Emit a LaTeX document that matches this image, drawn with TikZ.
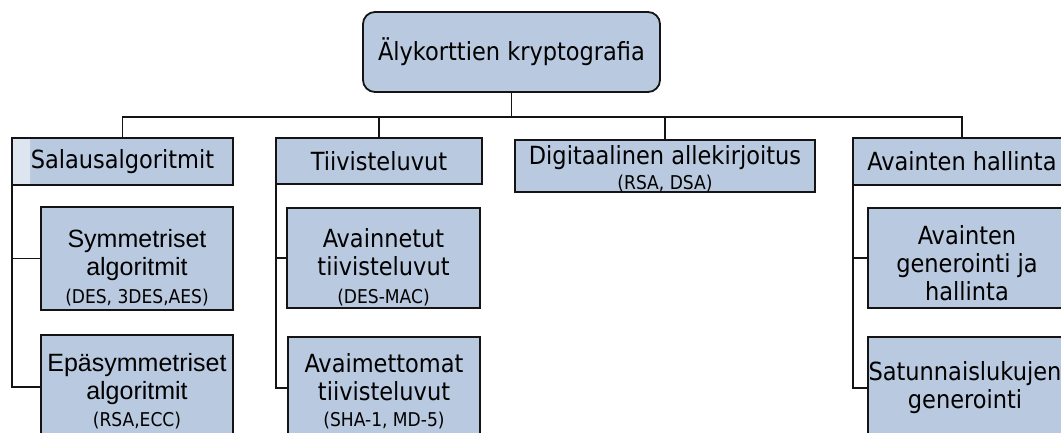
\documentclass[tikz,border=0pt]{standalone}
\usepackage{fontspec}
\newfontfamily\tahomalike{DejaVu Sans Condensed}
\newfontfamily\arialike{Liberation Sans}
\definecolor{boxblue}{RGB}{185,201,223}
\definecolor{edge}{RGB}{20,20,20}
\newcommand{\mainsize}{\fontsize{25}{28}\selectfont}
\newcommand{\parsize}{\fontsize{19}{22}\selectfont}
\newcommand{\paren}[1]{{\tahomalike\parsize #1}}
\begin{document}
\begin{tikzpicture}[x=1pt,y=-1pt,
  every node/.style={inner sep=0pt, outer sep=0pt, align=center},
  boxstyle/.style={draw=edge, line width=1.8pt, fill=boxblue},
  txt/.style={text=black, font=\tahomalike\mainsize},
  arialtxt/.style={text=black, font=\arialike\mainsize},
  link/.style={draw=edge, line width=1.8pt}]
\useasboundingbox (0,0) rectangle (1061,432);
\clip (0,0) rectangle (1061,432);

% root of the tree
\node[boxstyle, txt, rounded corners=12pt, minimum width=297pt, minimum height=80pt]
  (root) at (511.5,52) {Älykorttien kryptografia};

% first level
\node[boxstyle, txt, minimum width=221pt, minimum height=47pt,
  path picture={\shade[left color=white!55!boxblue, right color=boxblue]
    (path picture bounding box.south west) rectangle
    ([xshift=18pt]path picture bounding box.north west);}]
  (salaus) at (122.5,161.5) {Salausalgoritmit};
\node[boxstyle, txt, minimum width=206pt, minimum height=46pt]
  (tiiv) at (379,161) {Tiivisteluvut};
\node[boxstyle, minimum width=300pt, minimum height=52pt] (digi) at (665,166) {};
\node[txt] (digi-t) at ([yshift=-3pt]digi.center)
  {Digitaalinen allekirjoitus\\[-3pt]\paren{(RSA, DSA)}};
\node[boxstyle, txt, minimum width=218pt, minimum height=47pt]
  (avh) at (962,161.5) {Avainten hallinta};

% second level boxes
\node[boxstyle, minimum width=192pt, minimum height=103pt] (sym) at (137,258.5) {};
\node[boxstyle, minimum width=192pt, minimum height=104pt] (epa) at (137,387) {};
\node[boxstyle, minimum width=193pt, minimum height=100pt] (avn) at (383.5,258) {};
\node[boxstyle, minimum width=192pt, minimum height=102pt] (avm) at (384,388) {};
\node[boxstyle, minimum width=198pt, minimum height=100pt] (agen) at (967,258) {};
\node[boxstyle, minimum width=198pt, minimum height=102pt] (satu) at (967,388) {};

% second level texts
\node[arialtxt] (sym-t) at ([yshift=-9pt]sym.center)
  {Symmetriset\\algoritmit\\[0pt]\paren{(DES, 3DES,AES)}};
\node[arialtxt] (epa-t) at ([yshift=-4pt]epa.center)
  {Epäsymmetriset\\algoritmit\\[-1pt]\paren{(RSA,ECC)}};
\node[txt] (avn-t) at ([yshift=-9pt]avn.center)
  {Avainnetut\\tiivisteluvut\\[0pt]\paren{(DES-MAC)}};
\node[txt] (avm-t) at ([yshift=-3pt]avm.center)
  {Avaimettomat\\tiivisteluvut\\[-2pt]\paren{(SHA-1, MD-5)}};
\node[txt] (agen-t) at ([yshift=-5pt]agen.center)
  {Avainten\\generointi ja\\hallinta};
\node[txt] (satu-t) at ([xshift=-2pt]satu.center)
  {Satunnaislukujen\\generointi};

% horizontal bus under the root
\coordinate (bus) at (511.5,117);
\draw[link] (root.south) -- (root.south |- bus);
\draw[link] (salaus.north) -- (salaus.north |- bus) -| (avh.north);
\draw[link] (tiiv.north) -- (tiiv.north |- bus);
\draw[link] (digi.north) -- (digi.north |- bus);

% side brackets to the second level
\draw[link] (salaus.south west) -- (salaus.south west |- epa.west) -- (epa.west);
\draw[link] (salaus.south west |- sym.west) -- (sym.west);
\draw[link] (tiiv.south west) -- (tiiv.south west |- avm.west) -- (avm.west);
\draw[link] (tiiv.south west |- avn.west) -- (avn.west);
\draw[link] (avh.south west) -- (avh.south west |- satu.west) -- (satu.west);
\draw[link] (avh.south west |- agen.west) -- (agen.west);
\end{tikzpicture}
\end{document}
